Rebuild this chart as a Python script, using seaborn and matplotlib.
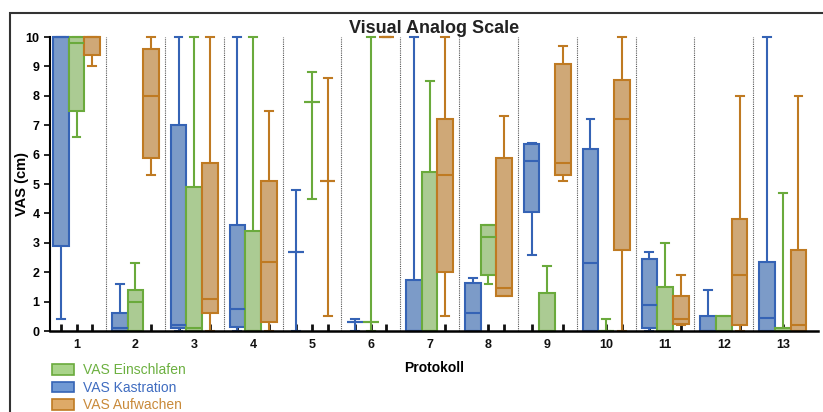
import pandas as pd
import numpy as np
import matplotlib
matplotlib.use('agg')
import matplotlib.pyplot as plt
import seaborn as sns
from matplotlib.patches import Rectangle, Patch

# five-number summaries per protocol: min, q1, median, q3, max
protokolle = [str(i) for i in range(1, 14)]
kastration = [
    [0.4, 2.9, 10, 10, 10], [0, 0, 0.1, 0.6, 1.6], [0, 0.1, 0.2, 7.0, 10],
    [0, 0.15, 0.75, 3.6, 10], [0, 2.7, 2.7, 2.7, 4.8], [0, 0.3, 0.3, 0.3, 0.4],
    [0, 0, 0, 1.75, 10], [0, 0, 0.6, 1.65, 1.8], [2.6, 4.05, 5.8, 6.35, 6.4],
    [0, 0, 2.3, 6.2, 7.2], [0, 0.1, 0.9, 2.45, 2.7], [0, 0, 0, 0.5, 1.4],
    [0, 0, 0.45, 2.35, 10],
]
einschlafen = [
    [6.6, 7.5, 9.8, 10, 10], [0, 0, 1.0, 1.4, 2.3], [0, 0, 0.1, 4.9, 10],
    [0, 0, 0, 3.4, 10], [4.5, 7.8, 7.8, 7.8, 8.8], [0, 0.3, 0.3, 0.3, 10],
    [0, 0, 0, 5.4, 8.5], [1.6, 1.9, 3.2, 3.6, 3.6], [0, 0, 0, 1.3, 2.2],
    [0, 0, 0, 0, 0.4], [0, 0, 0, 1.5, 3.0], [0, 0, 0, 0.5, 0.5],
    [0, 0, 0, 0.1, 4.7],
]
aufwachen = [
    [9.0, 9.4, 10, 10, 10], [5.3, 5.9, 8.0, 9.6, 10], [0, 0.6, 1.1, 5.7, 10],
    [0, 0.3, 2.35, 5.1, 7.5], [0.5, 5.1, 5.1, 5.1, 8.6], [10, 10, 10, 10, 10],
    [0.5, 2.0, 5.3, 7.2, 10], [1.2, 1.2, 1.45, 5.9, 7.3], [5.1, 5.3, 5.7, 9.1, 9.7],
    [0, 2.75, 7.2, 8.55, 10], [0.2, 0.24, 0.4, 1.2, 1.9], [0, 0.2, 1.9, 3.8, 8.0],
    [0, 0, 0.2, 2.75, 8.0],
]

gruppen = ['VAS Kastration', 'VAS Einschlafen', 'VAS Aufwachen']
fill = {'VAS Kastration': '#7099d4', 'VAS Einschlafen': '#a9d48a', 'VAS Aufwachen': '#deaa68'}
edge = {'VAS Kastration': '#3563b5', 'VAS Einschlafen': '#6aaa3c', 'VAS Aufwachen': '#bf7a22'}
text_col = {'VAS Kastration': '#3f6cc0', 'VAS Einschlafen': '#6cb040', 'VAS Aufwachen': '#c98a3a'}

rows = []
for name, values in zip(gruppen, [kastration, einschlafen, aufwachen]):
    for p, five in zip(protokolle, values):
        for v in five:
            rows.append({'Protokoll': p, 'VAS': v, 'Gruppe': name})
df = pd.DataFrame(rows)

plt.rcParams['font.family'] = ['Liberation Sans', 'DejaVu Sans']
fig = plt.figure(figsize=(8.23, 4.12), dpi=100)
ax = fig.add_axes([0.0608, 0.1966, 0.9332, 0.7134])

sns.boxplot(data=df, x='Protokoll', y='VAS', hue='Gruppe', order=protokolle,
            hue_order=gruppen, palette=fill, width=0.8, gap=0, whis=(0, 100),
            showfliers=False, linewidth=1.5, legend=False, ax=ax)

for cont, name in zip(ax.containers, gruppen):
    c = edge[name]
    for b in cont.boxes:
        b.set_edgecolor(c)
        b.set_alpha(None)
        b.set_clip_on(False)
    for part in (cont.medians, cont.whiskers, cont.caps):
        for ln in part:
            ln.set_color(c)
            ln.set_clip_on(False)

for i in range(len(protokolle) - 1):
    ax.axvline(i + 0.5, color='#555555', linestyle=(0, (1, 1)), linewidth=0.8, zorder=0)

ax.set_xlim(-0.45, 12.6)
ax.set_ylim(0, 10)
ax.set_yticks(range(0, 11))
ax.set_xticks(range(13))
ax.set_xticklabels(protokolle)
ax.set_xticks([i + d for i in range(13) for d in (-0.267, 0.267)], minor=True)
ax.tick_params(axis='x', which='both', direction='in', length=5, width=2, colors='#111111',
               labelsize=9, pad=6)
ax.tick_params(axis='y', direction='out', length=4, width=1.2, labelsize=9)
for lbl in ax.get_xticklabels() + ax.get_yticklabels():
    lbl.set_fontweight('bold')
sns.despine(ax=ax)
ax.spines['left'].set_linewidth(1.5)
ax.spines['bottom'].set_linewidth(1.8)

ax.set_title('Visual Analog Scale', fontsize=13, fontweight='bold', color='#222222', pad=3)
ax.set_ylabel('VAS (cm)', fontsize=10.5, fontweight='bold')
ax.yaxis.set_label_coords(-0.027, 0.5)
ax.set_xlabel('')
fig.text(0.527, 0.107, 'Protokoll', fontsize=10, fontweight='bold', ha='center', va='center')

order = ['VAS Einschlafen', 'VAS Kastration', 'VAS Aufwachen']
handles = [Patch(facecolor=fill[n], edgecolor=edge[n], linewidth=1.2) for n in order]
leg = fig.legend(handles, order, loc='upper left', bbox_to_anchor=(0.055, 0.135),
                 frameon=False, fontsize=10, handlelength=1.6, handleheight=0.8,
                 labelspacing=0.25, borderpad=0, handletextpad=0.6)
for t, n in zip(leg.get_texts(), order):
    t.set_color(text_col[n])

fig.patches.append(Rectangle((0.012, -0.1), 1.2, 1.068, transform=fig.transFigure,
                             fill=False, edgecolor='#333333', linewidth=1.5))

plt.savefig('out.png', dpi=100)
plt.close(fig)
